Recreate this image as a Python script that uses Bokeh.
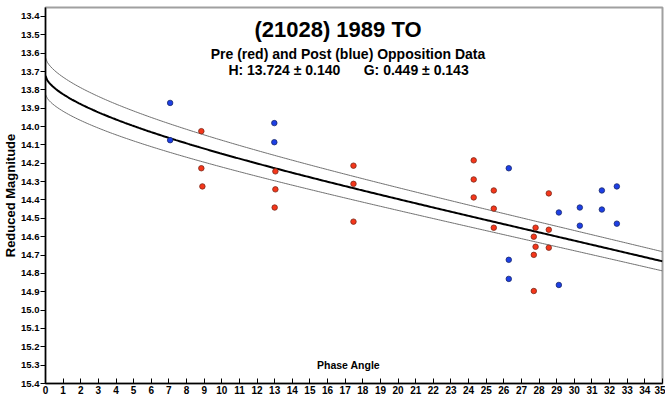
import numpy as np
from bokeh.plotting import figure
from bokeh.models import Range1d, FixedTicker, PrintfTickFormatter, Label
from bokeh.embed import file_html
from bokeh.resources import INLINE

NB = "\u00a0"
title_text = "(21028) 1989 TO"
subtitle_text = "Pre (red) and Post (blue) Opposition Data"
params_text = "H: 13.724 ± 0.140" + NB * 6 + "G: 0.449 ± 0.143"
x_label = "Phase Angle"
y_label = "Reduced Magnitude"

# Pre-opposition (red) observations
pre_phase = [8.84, 8.84, 8.9, 13.04, 13.04, 13.0, 17.47, 17.47, 17.47,
             24.29, 24.29, 24.29, 25.43, 25.43, 25.43,
             27.8, 27.7, 27.8, 27.7, 27.7, 28.55, 28.55, 28.55]
pre_mag = [14.025, 14.227, 14.326, 14.244, 14.342, 14.441, 14.213, 14.312, 14.518,
           14.184, 14.288, 14.386, 14.348, 14.447, 14.551,
           14.551, 14.600, 14.655, 14.699, 14.896, 14.364, 14.562, 14.660]

# Post-opposition (blue) observations
post_phase = [7.07, 7.07, 12.98, 12.98, 26.28, 26.28, 26.28, 29.12, 29.12,
              30.31, 30.31, 31.56, 31.56, 32.41, 32.41]
post_mag = [13.871, 14.074, 13.981, 14.085, 14.227, 14.726, 14.830, 14.468, 14.863,
            14.441, 14.540, 14.348, 14.452, 14.326, 14.529]

# H-G model parameters
H_fit, G_fit = 13.724, 0.449
H_upper, G_upper = 13.624, 0.41
H_lower, G_lower = 13.824, 0.49

x_ticks = list(range(0, 36))
y_ticks = [13.4, 13.5, 13.6, 13.7, 13.8, 13.9, 14.0, 14.1, 14.2, 14.3, 14.4,
           14.5, 14.6, 14.7, 14.8, 14.9, 15.0, 15.1, 15.2, 15.3, 15.4]


def hg_curve(alpha_deg, H, G):
    t = np.tan(np.radians(alpha_deg) / 2.0)
    phi1 = np.exp(-3.33 * t ** 0.63)
    phi2 = np.exp(-1.87 * t ** 1.22)
    return H - 2.5 * np.log10((1 - G) * phi1 + G * phi2)


alpha = np.linspace(0, 35, 351)

FONT = "Liberation Sans"

p = figure(width=665, height=397, output_backend="svg", toolbar_location=None,
           x_range=Range1d(0, 35), y_range=Range1d(15.4, 13.351),
           min_border_left=45, min_border_right=3, min_border_top=7, min_border_bottom=14,
           background_fill_color="white", border_fill_color="white")
p.grid.visible = False
p.outline_line_color = "#a0a0a0"
p.outline_line_width = 2

p.line(alpha, hg_curve(alpha, H_upper, G_upper), line_color="#707070", line_width=1)
p.line(alpha, hg_curve(alpha, H_lower, G_lower), line_color="#707070", line_width=1)
p.line(alpha, hg_curve(alpha, H_fit, G_fit), line_color="black", line_width=2)

p.scatter(pre_phase, pre_mag, size=5.5, fill_color="#f5361a", line_color="#7a2a1a", line_width=0.8)
p.scatter(post_phase, post_mag, size=5.5, fill_color="#1d3fe6", line_color="#1a2a6a", line_width=0.8)

xa = p.xaxis[0]
xa.ticker = FixedTicker(ticks=x_ticks)
xa.major_tick_in = 5
xa.major_tick_out = 0
xa.minor_tick_line_color = None
xa.major_label_standoff = 2
xa.major_label_text_font = FONT
xa.major_label_text_font_style = "bold"
xa.major_label_text_font_size = "10px"
xa.major_label_text_color = "black"
xa.axis_line_color = "black"
xa.axis_line_width = 1.5

ya = p.yaxis[0]
ya.ticker = FixedTicker(ticks=y_ticks)
ya.formatter = PrintfTickFormatter(format="%.1f")
ya.major_tick_in = 0
ya.major_tick_out = 5
ya.minor_tick_line_color = None
ya.major_label_standoff = 1
ya.major_label_text_font = FONT
ya.major_label_text_font_style = "bold"
ya.major_label_text_font_size = "9.5px"
ya.major_label_text_color = "black"
ya.axis_line_color = "black"
ya.axis_line_width = 1.5
ya.axis_label = y_label
ya.axis_label_standoff = 0
ya.axis_label_text_font = FONT
ya.axis_label_text_font_style = "bold"
ya.axis_label_text_font_size = "13px"
ya.axis_label_text_color = "black"

p.add_layout(Label(x=17.19, y=15.299, text=x_label, text_align="center", text_baseline="middle",
                   text_font=FONT, text_font_style="bold", text_font_size="10.5px", text_color="black"))
p.add_layout(Label(x=16.59, y=13.4726, text=title_text, text_align="center", text_baseline="middle",
                   text_font=FONT, text_font_style="bold", text_font_size="22px", text_color="black"))
p.add_layout(Label(x=17.16, y=13.6036, text=subtitle_text, text_align="center", text_baseline="middle",
                   text_font=FONT, text_font_style="bold", text_font_size="14px", text_color="black"))
p.add_layout(Label(x=17.19, y=13.691, text=params_text, text_align="center", text_baseline="middle",
                   text_font=FONT, text_font_style="bold", text_font_size="14px", text_color="black"))

open("out.html", "w").write(file_html(p, INLINE))
